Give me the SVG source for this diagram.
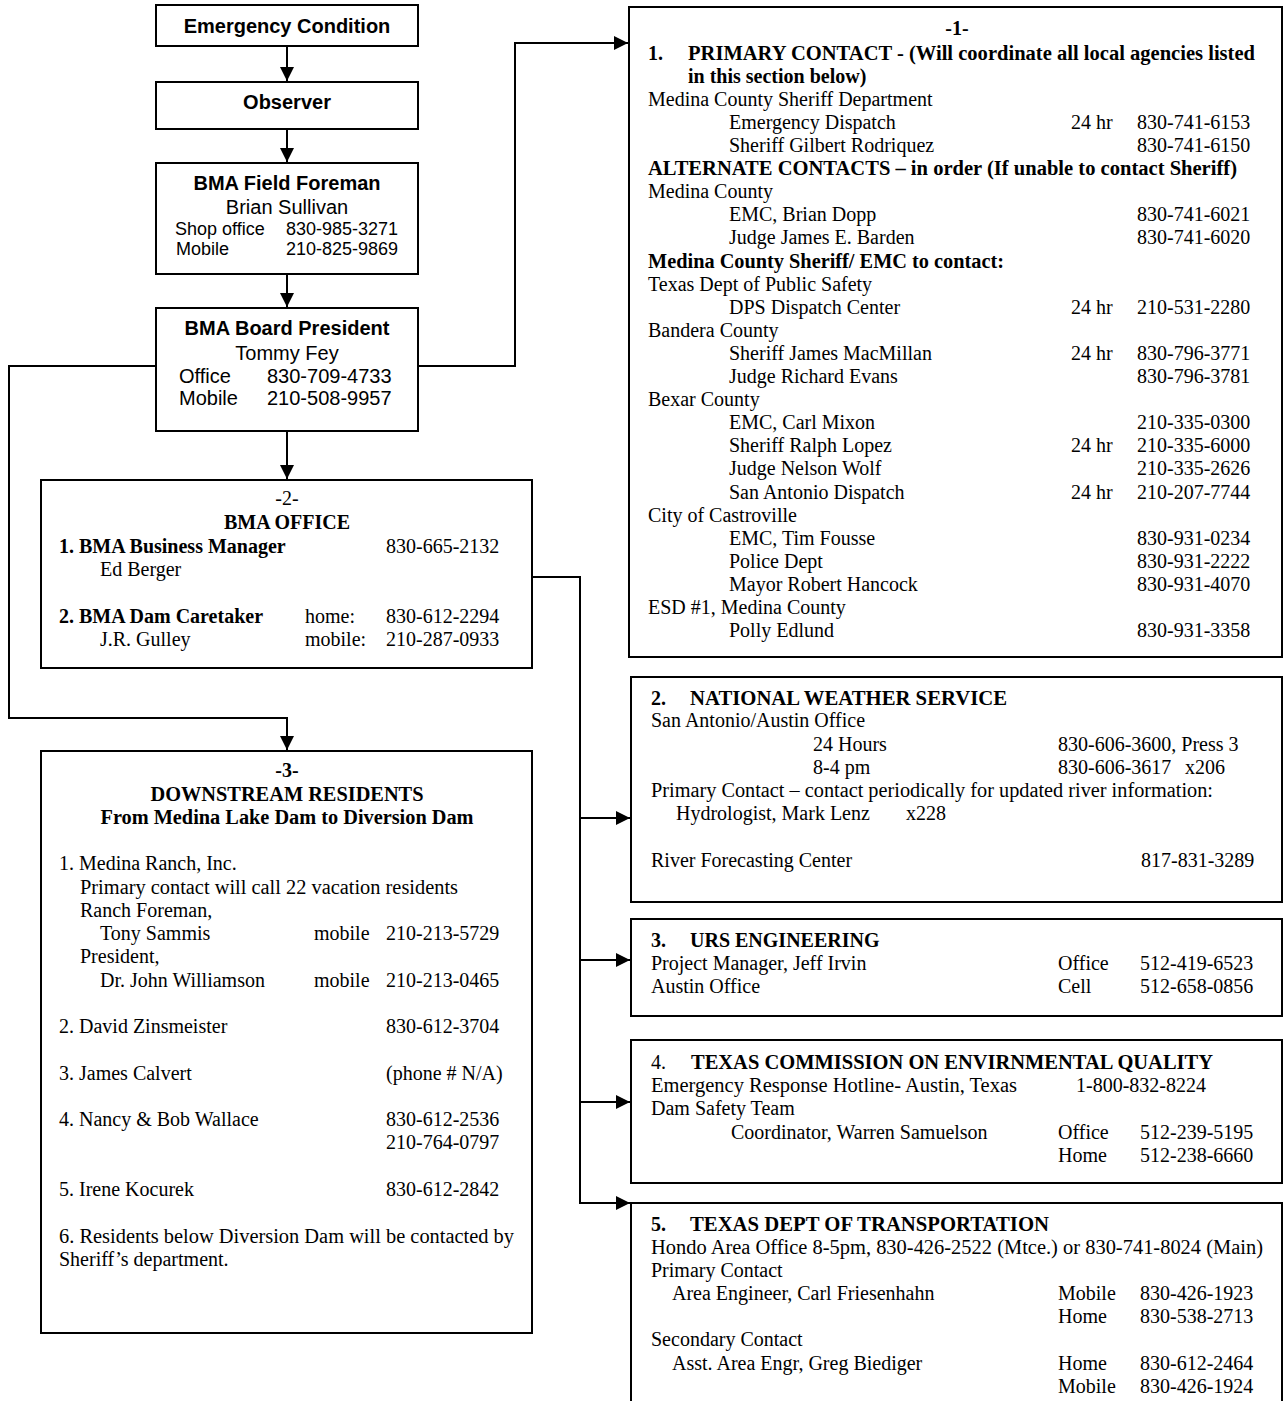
<svg xmlns="http://www.w3.org/2000/svg" width="1283" height="1401" viewBox="0 0 1283 1401">
<style>
.box{fill:#fff;stroke:#000;stroke-width:2}
.c{fill:none;stroke:#000;stroke-width:2}
.a{font-family:"Liberation Sans",Arial,sans-serif;font-size:20px;fill:#000}
.ab{font-family:"Liberation Sans",Arial,sans-serif;font-size:20px;font-weight:bold;fill:#000}
.as{font-family:"Liberation Sans",Arial,sans-serif;font-size:18px;fill:#000}
.t{font-family:"Liberation Serif","Times New Roman",serif;font-size:20px;fill:#000}
.tb{font-family:"Liberation Serif","Times New Roman",serif;font-size:20px;font-weight:bold;fill:#000}
.m{text-anchor:middle}
</style>
<defs>
<marker id="arr" markerUnits="userSpaceOnUse" markerWidth="16" markerHeight="16" refX="14" refY="7" orient="auto">
<path d="M0,0 L14,7 L0,14 z" fill="#000"/>
</marker>
</defs>
<rect width="1283" height="1401" fill="#fff"/>

<g id="connectors">
<path class="c" d="M287,46 V81" marker-end="url(#arr)"/>
<path class="c" d="M287,129 V162" marker-end="url(#arr)"/>
<path class="c" d="M287,274 V307" marker-end="url(#arr)"/>
<path class="c" d="M287,431 V479" marker-end="url(#arr)"/>
<path class="c" d="M156,366 H9 V718 H287 V750" marker-end="url(#arr)"/>
<path class="c" d="M418,366 H515 V43 H628" marker-end="url(#arr)"/>
<path class="c" d="M532,577 H580 V1203 H630" marker-end="url(#arr)"/>
<path class="c" d="M580,818 H630" marker-end="url(#arr)"/>
<path class="c" d="M580,960 H630" marker-end="url(#arr)"/>
<path class="c" d="M580,1102 H630" marker-end="url(#arr)"/>
</g>

<g id="emergency">
<rect class="box" x="156" y="5" width="262" height="41"/>
<text class="ab m" x="287" y="33">Emergency Condition</text>
</g>

<g id="observer">
<rect class="box" x="156" y="82" width="262" height="47"/>
<text class="ab m" x="287" y="109">Observer</text>
</g>

<g id="foreman">
<rect class="box" x="156" y="163" width="262" height="111"/>
<text class="ab m" x="287" y="190">BMA Field Foreman</text>
<text class="a m" x="287" y="214">Brian Sullivan</text>
<text class="as" x="175" y="235">Shop office</text>
<text class="as" x="286" y="235">830-985-3271</text>
<text class="as" x="176" y="255">Mobile</text>
<text class="as" x="286" y="255">210-825-9869</text>
</g>

<g id="president">
<rect class="box" x="156" y="308" width="262" height="123"/>
<text class="ab m" x="287" y="335">BMA Board President</text>
<text class="a m" x="287" y="360">Tommy Fey</text>
<text class="a" x="179" y="383">Office</text>
<text class="a" x="267" y="383">830-709-4733</text>
<text class="a" x="179" y="405">Mobile</text>
<text class="a" x="267" y="405">210-508-9957</text>
</g>

<g id="bma-office">
<rect class="box" x="41" y="480" width="491" height="188"/>
<text class="t m" x="287" y="505">-2-</text>
<text class="tb m" x="287" y="529">BMA OFFICE</text>
<text class="tb" x="59" y="553">1. BMA Business Manager</text>
<text class="t" x="386" y="553">830-665-2132</text>
<text class="t" x="100" y="576">Ed Berger</text>
<text class="tb" x="59" y="623">2. BMA Dam Caretaker</text>
<text class="t" x="305" y="623">home:</text>
<text class="t" x="386" y="623">830-612-2294</text>
<text class="t" x="100" y="646">J.R. Gulley</text>
<text class="t" x="305" y="646">mobile:</text>
<text class="t" x="386" y="646">210-287-0933</text>
</g>

<g id="downstream">
<rect class="box" x="41" y="751" width="491" height="582"/>
<text class="tb m" x="287" y="777">-3-</text>
<text class="tb m" x="287" y="801" textLength="273" lengthAdjust="spacingAndGlyphs">DOWNSTREAM RESIDENTS</text>
<text class="tb m" x="287" y="824" textLength="373" lengthAdjust="spacingAndGlyphs">From Medina Lake Dam to Diversion Dam</text>
<text class="t" x="59" y="870">1. Medina Ranch, Inc.</text>
<text class="t" x="80" y="894" textLength="378" lengthAdjust="spacingAndGlyphs">Primary contact will call 22 vacation residents</text>
<text class="t" x="80" y="917">Ranch Foreman,</text>
<text class="t" x="100" y="940">Tony Sammis</text>
<text class="t" x="314" y="940">mobile</text>
<text class="t" x="386" y="940">210-213-5729</text>
<text class="t" x="80" y="963">President,</text>
<text class="t" x="100" y="987">Dr. John Williamson</text>
<text class="t" x="314" y="987">mobile</text>
<text class="t" x="386" y="987">210-213-0465</text>
<text class="t" x="59" y="1033">2. David Zinsmeister</text>
<text class="t" x="386" y="1033">830-612-3704</text>
<text class="t" x="59" y="1080">3. James Calvert</text>
<text class="t" x="386" y="1080">(phone # N/A)</text>
<text class="t" x="59" y="1126">4. Nancy &amp; Bob Wallace</text>
<text class="t" x="386" y="1126">830-612-2536</text>
<text class="t" x="386" y="1149">210-764-0797</text>
<text class="t" x="59" y="1196">5. Irene Kocurek</text>
<text class="t" x="386" y="1196">830-612-2842</text>
<text class="t" x="59" y="1243" textLength="455" lengthAdjust="spacingAndGlyphs">6. Residents below Diversion Dam will be contacted by</text>
<text class="t" x="59" y="1266">Sheriff’s department.</text>
</g>

<g id="primary-contact">
<rect class="box" x="629" y="7" width="653" height="650"/>
<text class="tb m" x="957" y="35">-1-</text>
<text class="tb" x="648" y="60">1.</text>
<text class="tb" x="688" y="60" textLength="567" lengthAdjust="spacingAndGlyphs">PRIMARY CONTACT - (Will coordinate all local agencies listed</text>
<text class="tb" x="688" y="83">in this section below)</text>
<text class="t" x="648" y="106">Medina County Sheriff Department</text>
<text class="t" x="729" y="129">Emergency Dispatch</text>
<text class="t" x="1071" y="129">24 hr</text>
<text class="t" x="1137" y="129">830-741-6153</text>
<text class="t" x="729" y="152">Sheriff Gilbert Rodriquez</text>
<text class="t" x="1137" y="152">830-741-6150</text>
<text class="tb" x="648" y="175" textLength="589" lengthAdjust="spacingAndGlyphs">ALTERNATE CONTACTS – in order (If unable to contact Sheriff)</text>
<text class="t" x="648" y="198">Medina County</text>
<text class="t" x="729" y="221">EMC, Brian Dopp</text>
<text class="t" x="1137" y="221">830-741-6021</text>
<text class="t" x="729" y="244">Judge James E. Barden</text>
<text class="t" x="1137" y="244">830-741-6020</text>
<text class="tb" x="648" y="268" textLength="356" lengthAdjust="spacingAndGlyphs">Medina County Sheriff/ EMC to contact:</text>
<text class="t" x="648" y="291">Texas Dept of Public Safety</text>
<text class="t" x="729" y="314">DPS Dispatch Center</text>
<text class="t" x="1071" y="314">24 hr</text>
<text class="t" x="1137" y="314">210-531-2280</text>
<text class="t" x="648" y="337">Bandera County</text>
<text class="t" x="729" y="360">Sheriff James MacMillan</text>
<text class="t" x="1071" y="360">24 hr</text>
<text class="t" x="1137" y="360">830-796-3771</text>
<text class="t" x="729" y="383">Judge Richard Evans</text>
<text class="t" x="1137" y="383">830-796-3781</text>
<text class="t" x="648" y="406">Bexar County</text>
<text class="t" x="729" y="429">EMC, Carl Mixon</text>
<text class="t" x="1137" y="429">210-335-0300</text>
<text class="t" x="729" y="452">Sheriff Ralph Lopez</text>
<text class="t" x="1071" y="452">24 hr</text>
<text class="t" x="1137" y="452">210-335-6000</text>
<text class="t" x="729" y="475">Judge Nelson Wolf</text>
<text class="t" x="1137" y="475">210-335-2626</text>
<text class="t" x="729" y="499">San Antonio Dispatch</text>
<text class="t" x="1071" y="499">24 hr</text>
<text class="t" x="1137" y="499">210-207-7744</text>
<text class="t" x="648" y="522">City of Castroville</text>
<text class="t" x="729" y="545">EMC, Tim Fousse</text>
<text class="t" x="1137" y="545">830-931-0234</text>
<text class="t" x="729" y="568">Police Dept</text>
<text class="t" x="1137" y="568">830-931-2222</text>
<text class="t" x="729" y="591">Mayor Robert Hancock</text>
<text class="t" x="1137" y="591">830-931-4070</text>
<text class="t" x="648" y="614">ESD #1, Medina County</text>
<text class="t" x="729" y="637">Polly Edlund</text>
<text class="t" x="1137" y="637">830-931-3358</text>
</g>

<g id="nws">
<rect class="box" x="631" y="677" width="651" height="225"/>
<text class="tb" x="651" y="705">2.</text>
<text class="tb" x="690" y="705" textLength="317" lengthAdjust="spacingAndGlyphs">NATIONAL WEATHER SERVICE</text>
<text class="t" x="651" y="727">San Antonio/Austin Office</text>
<text class="t" x="813" y="751">24 Hours</text>
<text class="t" x="1058" y="751">830-606-3600, Press 3</text>
<text class="t" x="813" y="774">8-4 pm</text>
<text class="t" x="1058" y="774">830-606-3617</text>
<text class="t" x="1185" y="774">x206</text>
<text class="t" x="651" y="797" textLength="562" lengthAdjust="spacingAndGlyphs">Primary Contact – contact periodically for updated river information:</text>
<text class="t" x="676" y="820">Hydrologist, Mark Lenz</text>
<text class="t" x="906" y="820">x228</text>
<text class="t" x="651" y="867">River Forecasting Center</text>
<text class="t" x="1141" y="867">817-831-3289</text>
</g>

<g id="urs">
<rect class="box" x="631" y="919" width="651" height="97"/>
<text class="tb" x="651" y="947">3.</text>
<text class="tb" x="690" y="947">URS ENGINEERING</text>
<text class="t" x="651" y="970">Project Manager, Jeff Irvin</text>
<text class="t" x="1058" y="970">Office</text>
<text class="t" x="1140" y="970">512-419-6523</text>
<text class="t" x="651" y="993">Austin Office</text>
<text class="t" x="1058" y="993">Cell</text>
<text class="t" x="1140" y="993">512-658-0856</text>
</g>

<g id="tceq">
<rect class="box" x="631" y="1040" width="651" height="143"/>
<text class="t" x="651" y="1069">4.</text>
<text class="tb" x="691" y="1069" textLength="522" lengthAdjust="spacingAndGlyphs">TEXAS COMMISSION ON ENVIRNMENTAL QUALITY</text>
<text class="t" x="651" y="1092" textLength="366" lengthAdjust="spacingAndGlyphs">Emergency Response Hotline- Austin, Texas</text>
<text class="t" x="1076" y="1092">1-800-832-8224</text>
<text class="t" x="651" y="1115">Dam Safety Team</text>
<text class="t" x="731" y="1139">Coordinator, Warren Samuelson</text>
<text class="t" x="1058" y="1139">Office</text>
<text class="t" x="1140" y="1139">512-239-5195</text>
<text class="t" x="1058" y="1162">Home</text>
<text class="t" x="1140" y="1162">512-238-6660</text>
</g>

<g id="txdot">
<path class="c" d="M631,1420 V1203 H1282 V1420"/>
<text class="tb" x="651" y="1231">5.</text>
<text class="tb" x="690" y="1231" textLength="359" lengthAdjust="spacingAndGlyphs">TEXAS DEPT OF TRANSPORTATION</text>
<text class="t" x="651" y="1254" textLength="612" lengthAdjust="spacingAndGlyphs">Hondo Area Office 8-5pm, 830-426-2522 (Mtce.) or 830-741-8024 (Main)</text>
<text class="t" x="651" y="1277">Primary Contact</text>
<text class="t" x="672" y="1300">Area Engineer, Carl Friesenhahn</text>
<text class="t" x="1058" y="1300">Mobile</text>
<text class="t" x="1140" y="1300">830-426-1923</text>
<text class="t" x="1058" y="1323">Home</text>
<text class="t" x="1140" y="1323">830-538-2713</text>
<text class="t" x="651" y="1346">Secondary Contact</text>
<text class="t" x="672" y="1370">Asst. Area Engr, Greg Biediger</text>
<text class="t" x="1058" y="1370">Home</text>
<text class="t" x="1140" y="1370">830-612-2464</text>
<text class="t" x="1058" y="1393">Mobile</text>
<text class="t" x="1140" y="1393">830-426-1924</text>
</g>
</svg>
